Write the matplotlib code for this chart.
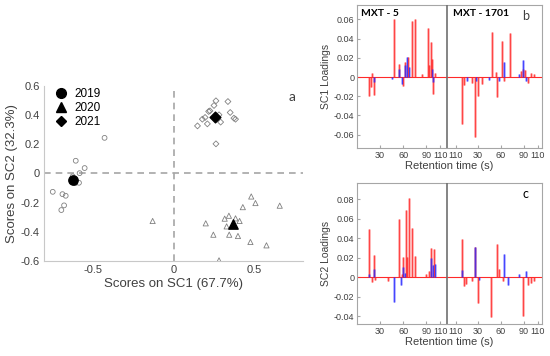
import matplotlib.pyplot as plt
from matplotlib.lines import Line2D

# ---- scores (panel a) ----
x2019 = [-0.426, -0.604, -0.549, -0.580, -0.584, -0.607, -0.623, -0.746, -0.686, -0.666, -0.676, -0.693, -0.612]
y2019 = [0.244, 0.087, 0.037, 0.002, -0.064, -0.066, -0.020, -0.126, -0.142, -0.153, -0.219, -0.251, -0.050]
x2020 = [-0.129, 0.199, 0.246, 0.281, 0.316, 0.342, 0.328, 0.344, 0.383, 0.408, 0.398, 0.428, 0.480, 0.506, 0.475, 0.574, 0.656]
y2020 = [-0.326, -0.342, -0.420, -0.596, -0.310, -0.290, -0.363, -0.420, -0.308, -0.326, -0.429, -0.231, -0.158, -0.203, -0.470, -0.493, -0.221]
x2021 = [0.148, 0.178, 0.195, 0.209, 0.217, 0.225, 0.250, 0.262, 0.281, 0.291, 0.262, 0.336, 0.350, 0.373, 0.383]
y2021 = [0.326, 0.372, 0.384, 0.340, 0.425, 0.429, 0.466, 0.498, 0.402, 0.352, 0.203, 0.493, 0.418, 0.379, 0.372]
mean_x = [-0.621, 0.367, 0.256]
mean_y = [-0.043, -0.345, 0.390]
years = ["2019", "2020", "2021"]

# ---- loadings (panels b, c): peak retention times (s) and heights ----
SEG2_OFFSET = 127
SEP_X = 117
xticks = [30, 60, 90, 108, SEG2_OFFSET + 1, SEG2_OFFSET + 30, SEG2_OFFSET + 60, SEG2_OFFSET + 90, SEG2_OFFSET + 108]
xticklabels = ["30", "60", "90", "110", "110", "30", "60", "90", "110"]

sc1_red_t1 = [16, 18, 20, 22.5, 48, 54, 60, 62, 66, 72, 75, 85, 92, 94, 96, 98, 99, 101]
sc1_red_h1 = [-0.020, -0.010, 0.004, -0.019, 0.0607, 0.014, -0.009, 0.016, 0.021, 0.058, 0.0607, 0.003, 0.051, 0.012, 0.036, 0.019, -0.018, 0.004]
sc1_blue_t1 = [22, 45, 55, 58, 63, 64.5, 67, 97, 98.5]
sc1_blue_h1 = [-0.005, -0.002, 0.008, -0.007, 0.012, 0.021, 0.010, 0.008, -0.005]
sc1_red_t2 = [9, 12, 22, 26, 30, 35, 48, 53, 55, 61, 64, 72, 86, 89, 91, 95, 99, 103]
sc1_red_h2 = [-0.049, -0.008, -0.006, -0.062, -0.020, -0.007, 0.047, 0.005, -0.021, 0.038, -0.004, 0.046, 0.006, 0.008, 0.007, -0.006, 0.004, 0.003]
sc1_blue_t2 = [16, 27, 45, 58, 64, 83, 89, 92]
sc1_blue_h2 = [-0.004, -0.004, -0.003, -0.004, 0.016, 0.003, 0.018, -0.004]

sc2_red_t1 = [16, 19, 21.6, 24, 40, 54.5, 58, 60, 63.6, 65, 67, 72, 76, 90, 93, 96, 100]
sc2_red_h1 = [0.049, -0.005, 0.023, -0.003, -0.004, 0.060, 0.003, 0.021, 0.069, 0.021, 0.081, 0.050, 0.022, 0.003, 0.006, 0.030, 0.029]
sc2_blue_t1 = [16, 22, 48, 57, 60, 62, 96, 99, 101]
sc2_blue_h1 = [0.003, 0.008, -0.026, -0.008, 0.010, 0.004, 0.020, 0.012, 0.013]
sc2_red_t2 = [9, 12, 15, 22, 26, 30, 47, 55, 58, 63, 89, 95, 99, 103]
sc2_red_h2 = [0.039, -0.009, -0.007, -0.004, 0.031, -0.027, -0.041, 0.034, 0.008, -0.004, -0.040, -0.008, -0.006, -0.004]
sc2_blue_t2 = [9, 26, 32, 64, 69, 83, 92]
sc2_blue_h2 = [0.007, 0.031, -0.003, 0.024, -0.008, 0.003, 0.006]

RED = "#ff2a2a"
BLUE = "#2a2aff"
GRAY = "#a6a6a6"
TXT = "#404040"

plt.rcParams["font.family"] = ["Liberation Sans", "DejaVu Sans"]


def stems(ax, t, h, offset, color):
    xs = [v + offset for v in t]
    ax.vlines(xs, 0, h, color=color, lw=1.8, alpha=0.45, zorder=3)
    ax.vlines(xs, 0, h, color=color, lw=0.6, alpha=0.9, zorder=4)


def loadings_panel(ax, red1, red2, blue1, blue2, ylim, yticks, ylab):
    ax.axhline(0, color=RED, lw=0.8, zorder=2)
    stems(ax, red1[0], red1[1], 0, RED)
    stems(ax, red2[0], red2[1], SEG2_OFFSET, RED)
    stems(ax, blue1[0], blue1[1], 0, BLUE)
    stems(ax, blue2[0], blue2[1], SEG2_OFFSET, BLUE)
    ax.axvline(SEP_X, color="#707070", lw=1.2, zorder=5)
    ax.set_xlim(0, 240)
    ax.set_ylim(*ylim)
    ax.set_yticks(yticks)
    ax.set_yticklabels(["0" if v == 0 else f"{v:g}" for v in yticks])
    ax.set_xticks(xticks)
    ax.set_xticklabels(xticklabels)
    ax.tick_params(labelsize=6.5, colors=TXT, direction="in", length=2, pad=2, color=GRAY)
    for s in ax.spines.values():
        s.set_color(GRAY)
        s.set_linewidth(0.8)
    ax.set_ylabel(ylab, fontsize=7.5, color=TXT, labelpad=2)
    ax.set_xlabel("Retention time (s)", fontsize=8, color=TXT, labelpad=1)


fig = plt.figure(figsize=(5.5, 3.56), dpi=100)

# panel a
ax = fig.add_axes([0.08, 0.267, 0.471, 0.4916])
ax.axhline(0, color=GRAY, lw=1.2, ls=(0, (4, 3)), zorder=1)
ax.axvline(0, color=GRAY, lw=1.2, ls=(0, (4, 3)), zorder=1)
ax.scatter(x2019, y2019, marker="o", s=12, facecolors="none", edgecolors="#808080", linewidths=0.6, zorder=2)
ax.scatter(x2020, y2020, marker="^", s=14, facecolors="none", edgecolors="#808080", linewidths=0.6, zorder=2)
ax.scatter(x2021, y2021, marker="D", s=9, facecolors="none", edgecolors="#808080", linewidths=0.6, zorder=2)
for mx, my, m, sz in zip(mean_x, mean_y, ["o", "^", "D"], [45, 45, 30]):
    ax.scatter([mx], [my], marker=m, s=sz, c="black", zorder=3)
ax.set_xlim(-0.8, 0.8)
ax.set_ylim(-0.6, 0.6)
ax.set_xticks([-0.5, 0, 0.5])
ax.set_xticklabels(["-0.5", "0", "0.5"])
ax.set_yticks([-0.6, -0.4, -0.2, 0, 0.2, 0.4, 0.6])
ax.set_yticklabels(["-0.6", "-0.4", "-0.2", "0", "0.2", "0.4", "0.6"])
ax.tick_params(labelsize=8, colors=TXT, length=0, pad=3)
for side in ["top", "right"]:
    ax.spines[side].set_visible(False)
for side in ["left", "bottom"]:
    ax.spines[side].set_color("#c8c8c8")
    ax.spines[side].set_linewidth(0.8)
ax.set_xlabel("Scores on SC1 (67.7%)", fontsize=9.5, color=TXT, labelpad=2)
ax.set_ylabel("Scores on SC2 (32.3%)", fontsize=9.5, color=TXT, labelpad=2)
handles = [Line2D([], [], ls="none", marker=m, color="black", markersize=ms) for m, ms in zip(["o", "^", "D"], [7, 7, 5.5])]
ax.legend(handles, years, loc="upper left", frameon=False, fontsize=8.5, handlelength=1.0,
          handletextpad=0.6, labelspacing=0.15, borderaxespad=0.1, bbox_to_anchor=(0.02, 1.02))

fig.text(292 / 550, 1 - 97 / 356, "a", fontsize=10, color=TXT, family=["Lato", "DejaVu Sans"], ha="center", va="center")

# panel b
axb = fig.add_axes([0.649, 0.584, 0.336, 0.402])
loadings_panel(axb, (sc1_red_t1, sc1_red_h1), (sc1_red_t2, sc1_red_h2),
               (sc1_blue_t1, sc1_blue_h1), (sc1_blue_t2, sc1_blue_h2),
               (-0.074, 0.075), [-0.06, -0.04, -0.02, 0, 0.02, 0.04, 0.06], "SC1 Loadings")
axb.text(0.02, 0.97, "MXT - 5", transform=axb.transAxes, fontsize=7.5, fontweight="bold",
         family=["Lato", "DejaVu Sans"], va="top", ha="left")
axb.text(0.52, 0.97, "MXT - 1701", transform=axb.transAxes, fontsize=7.5, fontweight="bold",
         family=["Lato", "DejaVu Sans"], va="top", ha="left")
axb.text(0.915, 0.92, "b", transform=axb.transAxes, fontsize=9, color=TXT,
         family=["Lato", "DejaVu Sans"], va="center", ha="center")

# panel c
axc = fig.add_axes([0.649, 0.0899, 0.336, 0.396])
loadings_panel(axc, (sc2_red_t1, sc2_red_h1), (sc2_red_t2, sc2_red_h2),
               (sc2_blue_t1, sc2_blue_h1), (sc2_blue_t2, sc2_blue_h2),
               (-0.0482, 0.0964), [-0.04, -0.02, 0, 0.02, 0.04, 0.06, 0.08], "SC2 Loadings")
axc.text(0.91, 0.92, "c", transform=axc.transAxes, fontsize=9, color="black",
         family=["Lato", "DejaVu Sans"], va="center", ha="center")

fig.savefig("out.png", dpi=100)
